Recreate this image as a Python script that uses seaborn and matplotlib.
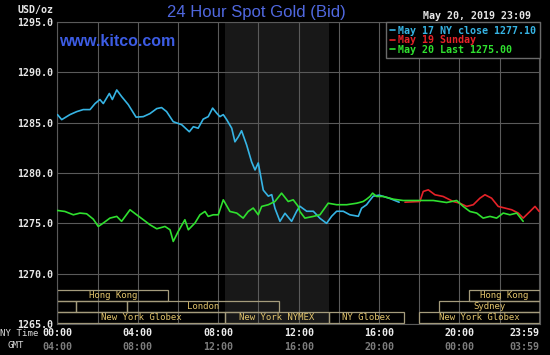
import matplotlib
matplotlib.use("Agg")
import matplotlib.pyplot as plt
from matplotlib.patches import Rectangle
import pandas as pd
import seaborn as sns

# hours after midnight (NY time) and bid price in USD/oz
may17_hours = [0.0, 0.21, 0.62, 0.96, 1.28, 1.62, 1.87, 2.11, 2.28, 2.58, 2.73, 2.95, 3.19,
               3.52, 3.91, 4.27, 4.6, 4.94, 5.18, 5.43, 5.76, 6.18, 6.56, 6.76, 7.0, 7.25,
               7.5, 7.72, 7.92, 8.08, 8.25, 8.42, 8.67, 8.83, 9.0, 9.16, 9.41, 9.66, 9.83,
               9.99, 10.24, 10.49, 10.66, 10.82, 11.07, 11.32, 11.65, 11.9, 12.06, 12.4,
               12.73, 13.06, 13.39, 13.64, 13.89, 14.22, 14.55, 14.97, 15.13, 15.38, 15.55,
               15.71, 16.0, 16.5, 17.0]
may17_price = [1285.8, 1285.3, 1285.8, 1286.1, 1286.3, 1286.3, 1286.9, 1287.3, 1286.9,
               1287.9, 1287.3, 1288.25, 1287.6, 1286.8, 1285.55, 1285.6, 1285.9, 1286.4,
               1286.5, 1286.1, 1285.1, 1284.8, 1284.1, 1284.6, 1284.45, 1285.35, 1285.6,
               1286.45, 1285.95, 1285.6, 1285.8, 1285.3, 1284.45, 1283.1, 1283.6, 1284.2,
               1282.8, 1281.1, 1280.3, 1281.0, 1278.3, 1277.7, 1277.85, 1276.5, 1275.2,
               1276.0, 1275.2, 1276.2, 1276.7, 1276.2, 1276.2, 1275.5, 1275.0, 1275.7,
               1276.2, 1276.2, 1275.85, 1275.7, 1276.5, 1276.85, 1277.3, 1277.7, 1277.8,
               1277.5, 1277.1]

may19_hours = [17.29, 18.03, 18.2, 18.45, 18.78, 19.19, 19.69, 20.02, 20.36, 20.69, 21.02,
               21.27, 21.6, 21.93, 22.26, 22.6, 22.93, 23.17, 23.51, 23.76, 23.97]
may19_price = [1277.1, 1277.17, 1278.17, 1278.33, 1277.84, 1277.67, 1277.17, 1277.0,
               1276.68, 1276.85, 1277.5, 1277.84, 1277.5, 1276.68, 1276.52, 1276.35,
               1276.02, 1275.52, 1276.18, 1276.68, 1276.18]

may20_hours = [0.0, 0.37, 0.79, 1.12, 1.45, 1.78, 2.03, 2.28, 2.61, 2.95, 3.19, 3.61, 3.94,
               4.27, 4.6, 4.94, 5.35, 5.6, 5.76, 6.01, 6.34, 6.51, 6.84, 7.09, 7.34, 7.5,
               7.75, 8.0, 8.25, 8.58, 8.92, 9.24, 9.49, 9.74, 9.99, 10.16, 10.49, 10.82,
               11.15, 11.48, 11.73, 11.98, 12.06, 12.31, 12.73, 13.06, 13.47, 13.89, 14.39,
               14.89, 15.21, 15.38, 15.55, 15.68, 15.88, 16.21, 16.71, 17.2, 17.87, 18.7,
               19.36, 19.86, 20.19, 20.52, 20.86, 21.18, 21.52, 21.85, 22.18, 22.51, 22.85,
               23.17]
may20_price = [1276.28, 1276.18, 1275.85, 1276.02, 1275.95, 1275.42, 1274.69, 1275.03,
               1275.52, 1275.69, 1275.2, 1276.35, 1275.85, 1275.36, 1274.86, 1274.46,
               1274.69, 1274.36, 1273.2, 1274.2, 1275.36, 1274.36, 1275.03, 1275.85,
               1276.18, 1275.69, 1275.85, 1275.85, 1277.34, 1276.18, 1276.02, 1275.52,
               1276.18, 1276.52, 1275.85, 1276.68, 1276.85, 1277.17, 1278.0, 1277.17,
               1277.34, 1276.68, 1276.18, 1275.52, 1275.69, 1275.85, 1277.0, 1276.85,
               1276.85, 1277.0, 1277.17, 1277.4, 1277.67, 1278.0, 1277.67, 1277.67, 1277.4,
               1277.27, 1277.27, 1277.27, 1277.07, 1277.27, 1276.68, 1276.18, 1276.02,
               1275.52, 1275.69, 1275.52, 1276.02, 1275.85, 1276.02, 1275.2]

series_names = ["May 17 NY close 1277.10", "May 19 Sunday", "May 20 Last 1275.00"]
series_colors = ["#36b4e4", "#e52228", "#2fe02f"]

y_ticks = [1265, 1270, 1275, 1280, 1285, 1290, 1295]
ny_ticks = [0, 4, 8, 12, 16, 20, 23.983]
ny_labels = ["00:00", "04:00", "08:00", "12:00", "16:00", "20:00", "23:59"]
gmt_labels = ["04:00", "08:00", "12:00", "16:00", "20:00", "00:00", "03:59"]

# trading sessions along the bottom (row 0 = top row)
session_names = ["Hong Kong", "Hong Kong", "", "", "London", "Sydney",
                 "New York Globex", "New York NYMEX", "NY Globex", "New York Globex"]
session_rows = [0, 0, 1, 1, 1, 1, 2, 2, 2, 2]
session_start = [0, 20.5, 0, 0.92, 3.46, 19.0, 0, 8.33, 13.5, 18.0]
session_end = [5.5, 24, 0.92, 3.46, 11.0, 24, 8.33, 13.5, 17.25, 24]
nymex_open, nymex_close = 8.33, 13.5

sns.set_theme(style="dark", rc={
    "figure.facecolor": "black", "axes.facecolor": "black",
    "axes.edgecolor": "#5a5a5a", "grid.color": "#5a5a5a",
})
plt.rcParams["font.family"] = ["DejaVu Sans Mono"]
mono = dict(family="DejaVu Sans Mono", fontsize=7.2, fontweight="bold")

fig = plt.figure(figsize=(5.5, 3.55), dpi=100)
ax = fig.add_axes([0.1045, 0.0873, 0.877, 0.8507])

# NYMEX pit hours shading
ax.axvspan(nymex_open, nymex_close, color="#181818", zorder=0, lw=0)

all_hours = [may17_hours, may19_hours, may20_hours]
all_prices = [may17_price, may19_price, may20_price]
for hrs, prc, name, col in zip(all_hours, all_prices, series_names, series_colors):
    sns.lineplot(x=hrs, y=prc, color=col, label=name, linewidth=1.2, ax=ax,
                 sort=False, estimator=None, zorder=3)

ax.set_xlim(0, 24)
ax.set_ylim(1265, 1295)
ax.set_yticks(y_ticks)
ax.set_yticklabels([f"{v:.1f}" for v in y_ticks], color="#e6e6e6", **mono)
ax.set_xticks(ny_ticks)
ax.set_xticklabels(ny_labels, color="#ececec", **mono)
ax.set_xticks([2, 6, 10, 14, 18, 22], minor=True)
ax.tick_params(axis="both", which="both", length=0, pad=3)
ax.grid(True, which="both", color="#5a5a5a", linewidth=0.8, zorder=1)
ax.set_axisbelow(True)
ax.set_xlabel("")
ax.set_ylabel("")
for s in ax.spines.values():
    s.set_color("#5a5a5a")
    s.set_linewidth(0.8)

# GMT row under the NY time ticks
for t, lab in zip(ny_ticks, gmt_labels):
    ax.text(t, -0.075, lab, transform=ax.get_xaxis_transform(), ha="center", va="center",
            color="#7c7c7c", family="DejaVu Sans Mono", fontsize=7.2, fontweight="bold")
ax.get_xticklabels()[-1].set_horizontalalignment("right")
ax.texts[-1].set_horizontalalignment("right")

# session boxes
row_top, row_h = 0.1126, 0.0363
for name, r, s0, s1 in zip(session_names, session_rows, session_start, session_end):
    y0 = row_top - (r + 1) * row_h
    ax.add_patch(Rectangle((s0, y0), s1 - s0, row_h, transform=ax.get_xaxis_transform(),
                           fill=False, edgecolor="#a59c7c", linewidth=0.9, zorder=2))
    if name:
        ax.text((s0 + s1) / 2, y0 + row_h / 2, name, transform=ax.get_xaxis_transform(),
                ha="center", va="center", color="#e2c46c", family="DejaVu Sans Mono",
                fontsize=6.5, zorder=4)

leg = ax.legend(loc="upper right", bbox_to_anchor=(1, 1), borderaxespad=0,
                handlelength=0.5, handletextpad=0.35, labelspacing=-0.05, borderpad=0.35,
                frameon=True, fancybox=False, facecolor="black", edgecolor="#6a6a6a",
                framealpha=1, labelcolor="linecolor",
                prop=dict(family="DejaVu Sans Mono", size=7.2, weight="bold"))
leg.set_zorder(5)

# header and axis captions
fig.text(0.466, 0.965, "24 Hour Spot Gold (Bid)", ha="center", va="center",
         color="#5068e0", family="Liberation Sans", fontsize=12)
fig.text(59 / 550, 1 - 42 / 355, "www.kitco.com", ha="left", va="center",
         color="#3c5ce4", family="Liberation Sans", fontsize=11.5, fontweight="bold")
fig.text(53 / 550, 1 - 10 / 355, "USD/oz", ha="right", va="center", color="#e6e6e6", **mono)
fig.text(531 / 550, 1 - 16 / 355, "May 20, 2019 23:09", ha="right", va="center",
         color="#e6e6e6", **mono)
fig.text(0.0, 1 - 333 / 355, "NY Time", ha="left", va="center", color="#d8d8d8",
         family="DejaVu Sans Mono", fontsize=6.6)
fig.text(8 / 550, 1 - 346 / 355, "GMT", ha="left", va="center", color="#d8d8d8",
         family="DejaVu Sans Mono", fontsize=6.6)

fig.savefig("out.png", dpi=100, facecolor="black")
